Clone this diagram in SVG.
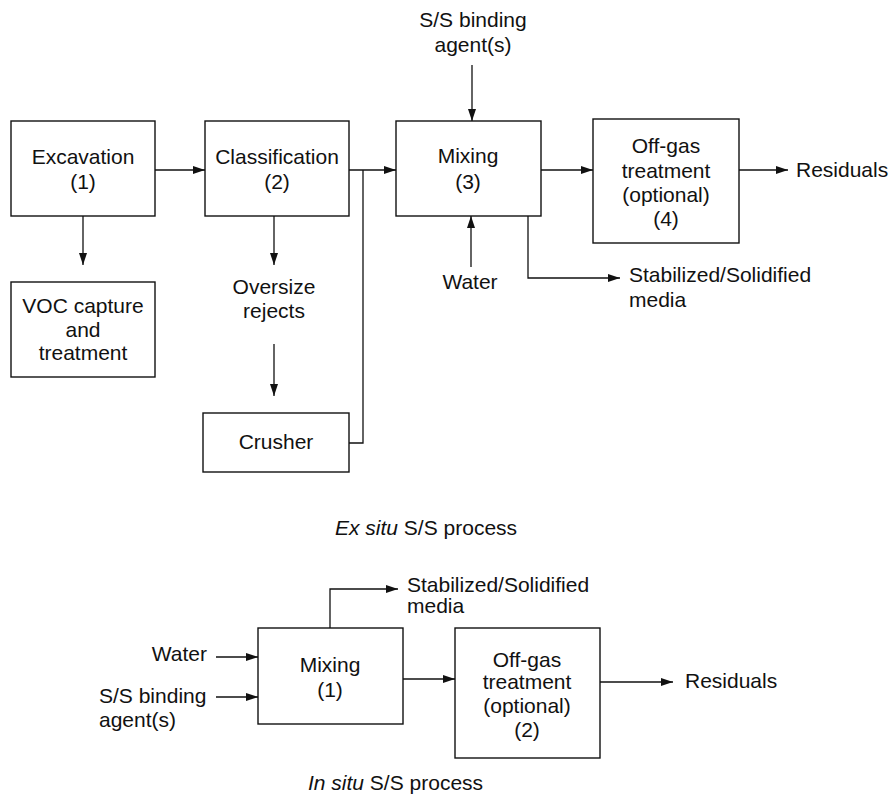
<svg xmlns="http://www.w3.org/2000/svg" width="889" height="795" viewBox="0 0 889 795">
  <style>
    .box { fill: #fff; stroke: #111; stroke-width: 1.4; }
    .ln { fill: none; stroke: #111; stroke-width: 1.3; }
    text { font-family: "Liberation Sans", Arial, Helvetica, sans-serif; font-size: 21px; fill: #111; }
    .c { text-anchor: middle; }
    .e { text-anchor: end; }
    .it { font-style: italic; }
  </style>
  <defs>
    <marker id="ah" viewBox="0 0 12 8" refX="12" refY="4" markerWidth="12" markerHeight="8" markerUnits="userSpaceOnUse" orient="auto">
      <path d="M0,0 L12,4 L0,8 Z" fill="#111"/>
    </marker>
  </defs>
  <rect width="889" height="795" fill="#fff"/>

  <!-- Ex situ process -->
  <g id="excavation">
    <rect class="box" x="11" y="121" width="144" height="95"/>
    <text class="c" x="83" y="164">Excavation</text>
    <text class="c" x="83" y="189">(1)</text>
  </g>
  <g id="classification">
    <rect class="box" x="205" y="121" width="144" height="95"/>
    <text class="c" x="277" y="164">Classification</text>
    <text class="c" x="277" y="189">(2)</text>
  </g>
  <g id="mixing-3">
    <rect class="box" x="396" y="121" width="145" height="95"/>
    <text class="c" x="468" y="163">Mixing</text>
    <text class="c" x="468" y="189">(3)</text>
  </g>
  <g id="offgas-4">
    <rect class="box" x="593" y="119" width="146" height="124"/>
    <text class="c" x="666" y="153">Off-gas</text>
    <text class="c" x="666" y="178">treatment</text>
    <text class="c" x="666" y="202">(optional)</text>
    <text class="c" x="666" y="226">(4)</text>
  </g>
  <g id="voc">
    <rect class="box" x="11" y="282" width="144" height="95"/>
    <text class="c" x="83" y="313">VOC capture</text>
    <text class="c" x="83" y="337">and</text>
    <text class="c" x="83" y="360">treatment</text>
  </g>
  <g id="crusher">
    <rect class="box" x="203" y="413" width="146" height="59"/>
    <text class="c" x="276" y="449">Crusher</text>
  </g>
  <g id="labels-top">
    <text class="c" x="473" y="27">S/S binding</text>
    <text class="c" x="473" y="52">agent(s)</text>
    <text class="c" x="470" y="289">Water</text>
    <text x="796" y="177">Residuals</text>
    <text x="629" y="282">Stabilized/Solidified</text>
    <text x="629" y="307">media</text>
    <text class="c" x="274" y="294">Oversize</text>
    <text class="c" x="274" y="318">rejects</text>
    <text x="335" y="535"><tspan class="it">Ex situ</tspan> S/S process</text>
  </g>

  <!-- In situ process -->
  <g id="mixing-1">
    <rect class="box" x="258" y="628" width="145" height="96"/>
    <text class="c" x="330" y="672">Mixing</text>
    <text class="c" x="330" y="697">(1)</text>
  </g>
  <g id="offgas-2">
    <rect class="box" x="455" y="628" width="145" height="130"/>
    <text class="c" x="527" y="667">Off-gas</text>
    <text class="c" x="527" y="689">treatment</text>
    <text class="c" x="527" y="713">(optional)</text>
    <text class="c" x="527" y="737">(2)</text>
  </g>
  <g id="labels-bottom">
    <text class="e" x="207" y="661">Water</text>
    <text x="99" y="703">S/S binding</text>
    <text x="99" y="727">agent(s)</text>
    <text x="407" y="592">Stabilized/Solidified</text>
    <text x="407" y="613">media</text>
    <text x="685" y="688">Residuals</text>
    <text x="308" y="790"><tspan class="it">In situ</tspan> S/S process</text>
  </g>

  <g id="connectors">
    <!-- ex situ -->
    <line class="ln" x1="155" y1="170" x2="205" y2="170" marker-end="url(#ah)"/>
    <line class="ln" x1="349" y1="170" x2="396" y2="170" marker-end="url(#ah)"/>
    <polyline class="ln" points="349,443 363,443 363,170"/>
    <line class="ln" x1="472" y1="65" x2="472" y2="121" marker-end="url(#ah)"/>
    <line class="ln" x1="541" y1="170" x2="593" y2="170" marker-end="url(#ah)"/>
    <line class="ln" x1="739" y1="170" x2="788" y2="170" marker-end="url(#ah)"/>
    <line class="ln" x1="471" y1="267" x2="471" y2="216" marker-end="url(#ah)"/>
    <polyline class="ln" points="528,216 528,278 620,278" marker-end="url(#ah)"/>
    <line class="ln" x1="83" y1="216" x2="83" y2="265" marker-end="url(#ah)"/>
    <line class="ln" x1="274" y1="216" x2="274" y2="265" marker-end="url(#ah)"/>
    <line class="ln" x1="274" y1="344" x2="274" y2="396" marker-end="url(#ah)"/>
    <!-- in situ -->
    <line class="ln" x1="216" y1="657" x2="258" y2="657" marker-end="url(#ah)"/>
    <line class="ln" x1="216" y1="697" x2="258" y2="697" marker-end="url(#ah)"/>
    <polyline class="ln" points="330,628 330,589 398,589" marker-end="url(#ah)"/>
    <line class="ln" x1="403" y1="679" x2="455" y2="679" marker-end="url(#ah)"/>
    <line class="ln" x1="600" y1="682" x2="673" y2="682" marker-end="url(#ah)"/>
  </g>
</svg>
